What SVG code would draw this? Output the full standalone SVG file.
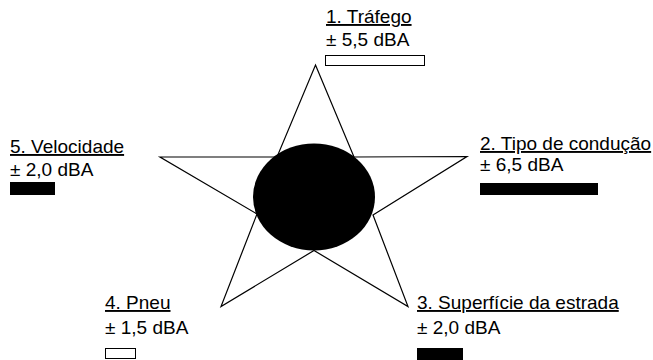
<svg xmlns="http://www.w3.org/2000/svg" width="653" height="360" viewBox="0 0 653 360">
<style>
.t{font-family:"Liberation Sans",Arial,sans-serif;font-size:19px;fill:#000}
.u{text-decoration:underline}
.bw{fill:#fff;stroke:#000;stroke-width:1}
.bb{fill:#000;stroke:#000;stroke-width:1}
</style>
<rect width="653" height="360" fill="#fff"/>
<g id="star">
<polygon points="315.5,65 354,157 467,156.5 373,215 408,306.5 314,250.5 221,306.5 257,214 160,157 277,157" fill="#fff" stroke="#000" stroke-width="1.2"/>
<ellipse cx="314" cy="197" rx="61" ry="53.5" fill="#000"/>
</g>
<g id="n1">
<text class="t u" x="326" y="23">1. Tráfego</text>
<text class="t" x="326" y="46">± 5,5 dBA</text>
<rect class="bw" x="325.5" y="55.5" width="99" height="10"/>
</g>
<g id="n2">
<text class="t u" x="480" y="150">2. Tipo de condução</text>
<text class="t" x="480" y="171">± 6,5 dBA</text>
<rect class="bb" x="480.5" y="183.5" width="117" height="11"/>
</g>
<g id="n3">
<text class="t u" x="417" y="309">3. Superfície da estrada</text>
<text class="t" x="417" y="334">± 2,0 dBA</text>
<rect class="bb" x="417.5" y="348.5" width="45" height="12"/>
</g>
<g id="n4">
<text class="t u" x="105" y="309">4. Pneu</text>
<text class="t" x="105" y="334">± 1,5 dBA</text>
<rect class="bw" x="105.5" y="348.5" width="30" height="10"/>
</g>
<g id="n5">
<text class="t u" x="10" y="153">5. Velocidade</text>
<text class="t" x="10" y="176">± 2,0 dBA</text>
<rect class="bb" x="10.5" y="182.5" width="44" height="12"/>
</g>
<g id="connectors"></g>
</svg>
